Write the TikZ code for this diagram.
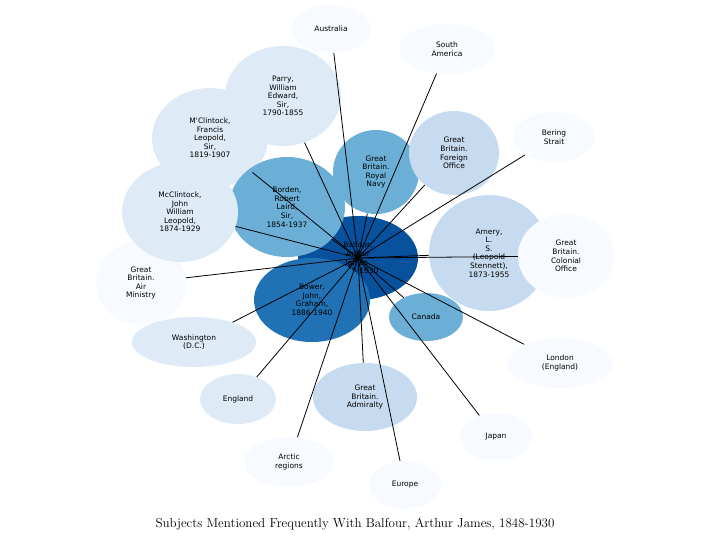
\documentclass[tikz,border=0pt]{standalone}
\usepackage{fontspec}
\newfontfamily\nodefont{DejaVu Sans}
\usetikzlibrary{shapes.geometric}
\definecolor{c1}{HTML}{08519C}
\definecolor{c2}{HTML}{2171B5}
\definecolor{c3}{HTML}{6BAED6}
\definecolor{c4}{HTML}{C6DBEF}
\definecolor{c5}{HTML}{DEEBF7}
\definecolor{c6}{HTML}{F7FBFF}
\tikzset{
  bub/.style n args={3}{ellipse, fill=#3, draw=none, inner sep=0pt, minimum width=#1pt, minimum height=#2pt, align=center, font=\nodefont\fontsize{7.5}{8.6}\selectfont},
  edge/.style={draw=black, line width=0.8pt}
}
\begin{document}
\begin{tikzpicture}[x=1pt,y=-1pt]
\useasboundingbox (0,0) rectangle (711,546);
\node[bub={120}{84}{c1}] (bal) at (358,258) {Balfour,\\Arthur\\James,\\1848-1930};
\node[bub={90}{84}{c6}] (air) at (141,283) {Great\\Britain.\\Air\\Ministry};
\node[bub={124}{50}{c5}] (was) at (194,342) {Washington\\(D.C.)};
\node[bub={76}{50}{c5}] (eng) at (238,399) {England};
\node[bub={90}{50}{c6}] (arc) at (289,462) {Arctic\\regions};
\node[bub={72}{48}{c6}] (eur) at (405,485) {Europe};
\node[bub={72}{48}{c6}] (jap) at (496,437) {Japan};
\node[bub={106}{50}{c6}] (lon) at (560,363) {London\\(England)};
\node[bub={82}{50}{c6}] (ber) at (554,137) {Bering\\Strait};
\node[bub={96}{50}{c6}] (sam) at (447,49) {South\\America};
\node[bub={80}{48}{c6}] (aus) at (331,29) {Australia};
\node[bub={116}{100}{c5}] (par) at (283,96) {Parry,\\William\\Edward,\\Sir,\\1790-1855};
\node[bub={116}{100}{c5}] (mcf) at (210,138) {M'Clintock,\\Francis\\Leopold,\\Sir,\\1819-1907};
\node[bub={116}{100}{c3}] (bor) at (287,207) {Borden,\\Robert\\Laird,\\Sir,\\1854-1937};
\node[bub={116}{100}{c5}] (mcj) at (180,212) {McClintock,\\John\\William\\Leopold,\\1874-1929};
\node[bub={86}{84}{c3}] (nav) at (376,172) {Great\\Britain.\\Royal\\Navy};
\node[bub={90}{84}{c4}] (for) at (454,153) {Great\\Britain.\\Foreign\\Office};
\node[bub={120}{116}{c4}] (ame) at (489,253) {Amery,\\L.\\S.\\(Leopold\\Stennett),\\1873-1955};
\node[bub={96}{84}{c6}] (col) at (566,256) {Great\\Britain.\\Colonial\\Office};
\node[bub={74}{48}{c3}] (can) at (426,317) {Canada};
\node[bub={104}{68}{c4}] (adm) at (365,397) {Great\\Britain.\\Admiralty};
\node[bub={116}{84}{c2}] (bow) at (312,300) {Bower,\\John,\\Graham,\\1886-1940};
\foreach \t in {air,was,eng,arc,eur,jap,lon,ber,sam,aus,par,mcf,bor,mcj,nav,for,ame,col,can,adm,bow}
  \draw[edge] (bal.center) -- (\t);
\node[font=\fontsize{13}{15}\selectfont] (title) at (355,524) {Subjects Mentioned Frequently With Balfour, Arthur James, 1848-1930};
\end{tikzpicture}
\end{document}
